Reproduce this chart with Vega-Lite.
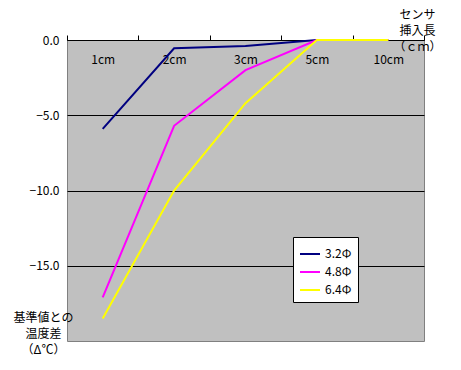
{
  "$schema": "https://vega.github.io/schema/vega-lite/v6.json",
  "width": 357,
  "height": 301,
  "autosize": {"type": "none"},
  "padding": {"left": 67, "top": 40, "right": 37, "bottom": 29},
  "background": "white",
  "config": {
    "font": "Noto Sans CJK JP",
    "view": {"fill": "#C0C0C0", "stroke": "#808080", "strokeWidth": 1},
    "axis": {"labelFont": "Noto Sans CJK JP", "titleFont": "Noto Sans CJK JP", "labelColor": "black", "titleColor": "black"}
  },
  "data": {
    "values": [
      {"length": "1cm", "order": 1, "series": "3.2Φ", "diff": -5.9},
      {"length": "2cm", "order": 2, "series": "3.2Φ", "diff": -0.55},
      {"length": "3cm", "order": 3, "series": "3.2Φ", "diff": -0.4},
      {"length": "5cm", "order": 4, "series": "3.2Φ", "diff": 0},
      {"length": "10cm", "order": 5, "series": "3.2Φ", "diff": 0},
      {"length": "1cm", "order": 1, "series": "4.8Φ", "diff": -17.1},
      {"length": "2cm", "order": 2, "series": "4.8Φ", "diff": -5.7},
      {"length": "3cm", "order": 3, "series": "4.8Φ", "diff": -2.0},
      {"length": "5cm", "order": 4, "series": "4.8Φ", "diff": 0},
      {"length": "10cm", "order": 5, "series": "4.8Φ", "diff": 0},
      {"length": "1cm", "order": 1, "series": "6.4Φ", "diff": -18.5},
      {"length": "2cm", "order": 2, "series": "6.4Φ", "diff": -10.0},
      {"length": "3cm", "order": 3, "series": "6.4Φ", "diff": -4.2},
      {"length": "5cm", "order": 4, "series": "6.4Φ", "diff": 0},
      {"length": "10cm", "order": 5, "series": "6.4Φ", "diff": 0}
    ]
  },
  "mark": {"type": "line", "strokeWidth": 2},
  "encoding": {
    "x": {
      "field": "length",
      "type": "ordinal",
      "sort": ["1cm", "2cm", "3cm", "5cm", "10cm"],
      "scale": {"type": "band", "paddingInner": 0, "paddingOuter": 0},
      "axis": {
        "orient": "top",
        "labelAngle": 0,
        "tickBand": "extent",
        "tickSize": 5,
        "tickColor": "black",
        "domainColor": "black",
        "labelPadding": -31,
        "labelFontSize": 12,
        "grid": false,
        "title": ["センサ", "挿入長", "（ｃｍ）"],
        "titleFontSize": 12,
        "titleFontWeight": "normal",
        "titleAngle": 0,
        "titleAlign": "center",
        "titleBaseline": "middle",
        "titleX": 350,
        "titleY": -26,
        "titleLineHeight": 16
      }
    },
    "y": {
      "field": "diff",
      "type": "quantitative",
      "scale": {"domain": [-20, 0], "nice": false},
      "axis": {
        "values": [0, -5, -10, -15],
        "format": ".1f",
        "grid": true,
        "gridColor": "black",
        "gridOpacity": 1,
        "gridWidth": 1,
        "domain": false,
        "ticks": false,
        "labelPadding": 8,
        "labelFontSize": 12,
        "title": ["基準値との", "温度差", "（Δ℃）"],
        "titleFontSize": 12,
        "titleFontWeight": "normal",
        "titleAngle": 0,
        "titleAlign": "center",
        "titleBaseline": "middle",
        "titleX": -24,
        "titleY": 277,
        "titleLineHeight": 16
      }
    },
    "color": {
      "field": "series",
      "type": "nominal",
      "scale": {"domain": ["3.2Φ", "4.8Φ", "6.4Φ"], "range": ["#000080", "#FF00FF", "#FFFF00"]},
      "legend": {
        "orient": "none",
        "legendX": 226,
        "legendY": 197,
        "title": null,
        "symbolType": "stroke",
        "symbolSize": 400,
        "symbolStrokeWidth": 2,
        "labelFontSize": 12,
        "labelColor": "black",
        "fillColor": "white",
        "strokeColor": "black",
        "padding": 6,
        "rowPadding": 1
      }
    },
    "order": {"field": "order"}
  }
}
